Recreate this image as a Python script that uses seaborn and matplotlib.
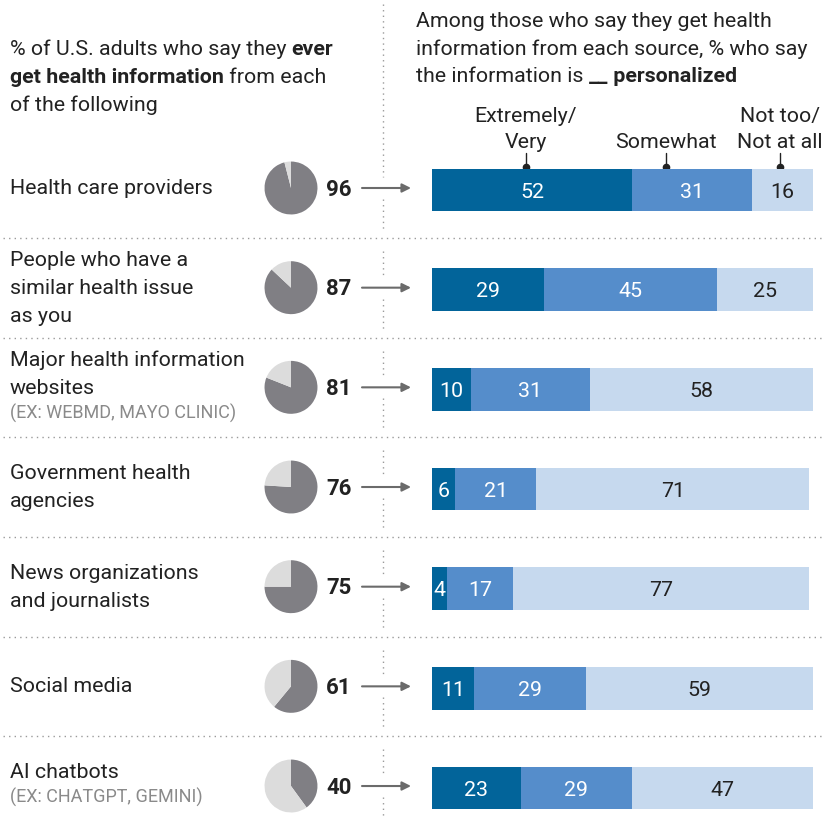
import matplotlib
matplotlib.use("Agg")
import matplotlib.pyplot as plt
import seaborn as sns
import numpy as np
import pandas as pd

# ---------------- data ----------------
categories = ["Health care providers",
              "People who have a similar health issue as you",
              "Major health information websites",
              "Government health agencies",
              "News organizations and journalists",
              "Social media",
              "AI chatbots"]
label_lines = [["Health care providers"],
               ["People who have a", "similar health issue", "as you"],
               ["Major health information", "websites"],
               ["Government health", "agencies"],
               ["News organizations", "and journalists"],
               ["Social media"],
               ["AI chatbots"]]
examples = ["", "", "(EX: WEBMD, MAYO CLINIC)", "", "", "", "(EX: CHATGPT, GEMINI)"]
ever_pct = [96, 87, 81, 76, 75, 61, 40]
extremely_very = [52, 29, 10, 6, 4, 11, 23]
somewhat = [31, 45, 31, 21, 17, 29, 29]
not_too = [16, 25, 58, 71, 77, 59, 47]
segment_labels = [["Extremely/", "Very"], ["Somewhat"], ["Not too/", "Not at all"]]

# ---------------- style ----------------
sns.set_style("white")
plt.rcParams['font.family'] = ['Roboto', 'DejaVu Sans']

DARK = "#02649a"
MED = "#558dcb"
LIGHT = "#c6d9ee"
PIE_DARK = "#807f84"
PIE_LIGHT = "#dcdcdc"
TXT = "#222222"
GRAY_TXT = "#8a8a8a"
DOT = "#9a9a9a"
ARROW = "#6b6b6b"

W, H = 834, 817
FS = 15.4
fig = plt.figure(figsize=(W / 100, H / 100), dpi=100)

# overlay axes in pixel coordinates
ov = fig.add_axes([0, 0, 1, 1])
ov.set_xlim(0, W)
ov.set_ylim(H, 0)
ov.axis("off")
renderer = fig.canvas.get_renderer()

ROW0, STEP = 190.0, 99.67
n = len(categories)
rows = [ROW0 + STEP * i for i in range(n)]

# ---------------- stacked bars (seaborn) ----------------
BX0, BX1 = 432, 817
top_px = ROW0 - STEP / 2
bar_ax = fig.add_axes([BX0 / W, 0, (BX1 - BX0) / W, (H - top_px) / H])
df = pd.DataFrame({"cat": categories,
                   "ev": extremely_very, "sw": somewhat, "nt": not_too})
df["c1"] = df["ev"]
df["c2"] = df["ev"] + df["sw"]
df["c3"] = df["ev"] + df["sw"] + df["nt"]
for col, colr in [("c3", LIGHT), ("c2", MED), ("c1", DARK)]:
    sns.barplot(data=df, x=col, y="cat", orient="h", color=colr, saturation=1,
                width=0.43, linewidth=0, ax=bar_ax, order=categories)
bar_ax.set_xlim(0, 100)
bar_ax.set_ylim(-0.5 + (H - top_px) / STEP, -0.5)
bar_ax.axis("off")

for i in range(n):
    start = 0
    for v, tc in [(extremely_very[i], "white"), (somewhat[i], "white"), (not_too[i], TXT)]:
        bar_ax.text(start + v / 2, i, str(v), ha="center", va="center_baseline",
                    fontsize=FS, color=tc)
        start += v

# ---------------- helpers ----------------
def text_width(s, **kw):
    t1 = ov.text(0, 0, s + "|", **kw)
    t2 = ov.text(0, 0, "|", **kw)
    w = t1.get_window_extent(renderer).width - t2.get_window_extent(renderer).width
    t1.remove(); t2.remove()
    return w

def runs(x, y, parts):
    for s, wt in parts:
        kw = dict(fontsize=FS, fontweight=wt, color=TXT)
        ov.text(x, y, s, va="baseline", ha="left", **kw)
        x += text_width(s, **kw)

# ---------------- headers ----------------
runs(10, 55, [("% of U.S. adults who say they ", "normal"), ("ever", "bold")])
runs(10, 83, [("get health information", "bold"), (" from each", "normal")])
runs(10, 111, [("of the following", "normal")])

runs(416, 27, [("Among those who say they get health", "normal")])
runs(416, 55, [("information from each source, % who say", "normal")])
runs(416, 82, [("the information is ", "normal"), ("__", "bold"), (" personalized", "bold")])

# legend labels with ticks
leg_x = [526, 666, 780]
for lx, lines in zip(leg_x, segment_labels):
    bl = [148] if len(lines) == 1 else [122, 148]
    for s, b in zip(lines, bl):
        ov.text(lx, b, s, ha="center", va="baseline", fontsize=FS, color=TXT)
    ov.plot([lx, lx], [153, 167], color=TXT, lw=1.0)
    ov.plot([lx], [167], marker="o", ms=4.5, color=TXT)

# ---------------- rows ----------------
for i, rc in enumerate(rows):
    lines = label_lines[i]
    ex = examples[i]
    k = len(lines) + (1 if ex else 0)
    c0 = rc - 4 - (k - 1) * 27 / 2
    for j, s in enumerate(lines):
        ov.text(10, c0 + j * 28 + 7.5, s, ha="left", va="baseline", fontsize=FS, color=TXT)
    if ex:
        ov.text(10, c0 + (len(lines) - 1) * 28 + 26 + 6, ex, ha="left", va="baseline",
                fontsize=13, color=GRAY_TXT)

    yc = rc - 2
    # pie
    R = 27
    pax = fig.add_axes([(291 - R) / W, 1 - (yc + R) / H, 2 * R / W, 2 * R / H])
    pax.pie([ever_pct[i], 100 - ever_pct[i]], colors=[PIE_DARK, PIE_LIGHT],
            startangle=90, counterclock=False, radius=1,
            wedgeprops=dict(linewidth=0))
    pax.set_xlim(-1.02, 1.02); pax.set_ylim(-1.02, 1.02)
    pax.axis("off")
    # number
    ov.text(326, yc + 7.5, str(ever_pct[i]), ha="left", va="baseline",
            fontsize=16, fontweight="bold", color=TXT)
    # arrow
    ov.annotate("", xy=(411, yc), xytext=(362, yc),
                arrowprops=dict(arrowstyle="-|>", color=ARROW, lw=1.5,
                                mutation_scale=13, shrinkA=0, shrinkB=0))

# ---------------- dotted separators ----------------
dots = dict(color=DOT, lw=1.0, linestyle=(0, (1, 3)))
seps = [rc + 48 for rc in rows[:-1]]
for s in seps:
    ov.plot([3, 823], [s, s], **dots)

# vertical dotted divider with gaps
VX = 383
y = 4
segs = []
for i, rc in enumerate(rows):
    a = rc - 2
    segs.append((y, a - 11))
    y = a + 11
    if i < len(seps):
        segs.append((y, seps[i] - 8))
        y = seps[i] + 13
segs.append((y, H))
for y0, y1 in segs:
    ov.plot([VX, VX], [y0, y1], **dots)

fig.savefig("out.png", dpi=100)
